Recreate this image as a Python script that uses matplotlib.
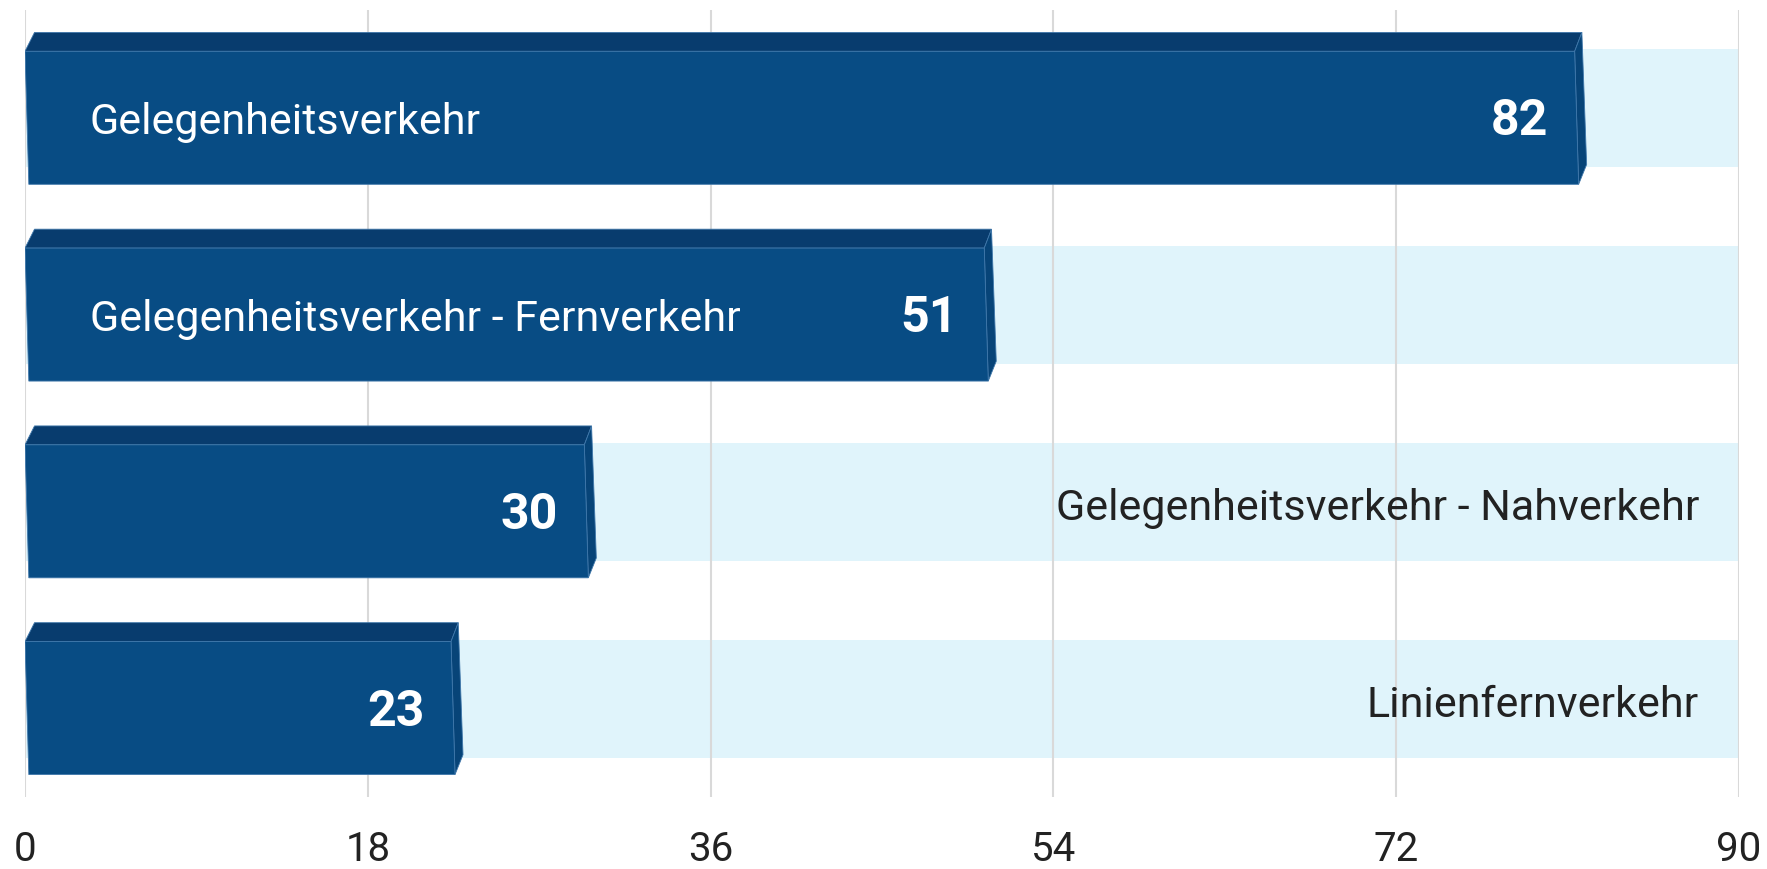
import matplotlib
matplotlib.use("Agg")
import matplotlib.pyplot as plt
from matplotlib.patches import Polygon, Rectangle

categories = ["Gelegenheitsverkehr", "Gelegenheitsverkehr - Fernverkehr",
              "Gelegenheitsverkehr - Nahverkehr", "Linienfernverkehr"]
values = [82, 51, 30, 23]
xticks = [0, 18, 36, 54, 72, 90]
xmax = 90

FRONT = "#084c84"
TOP = "#083c6e"
SIDE = "#074478"
EDGE = "#3f77aa"
BAND = "#e0f4fb"
GRID = "#d9d9d9"
TEXT = "#222222"

plt.rcParams['font.family'] = ['Roboto', 'DejaVu Sans']

fig = plt.figure(figsize=(17.67, 8.70), dpi=100)
ax = fig.add_axes([25/1767, 1-798/870, (1739-25)/1767, (798-11)/870])
ax.set_xlim(0, xmax)
ax.set_ylim(-0.5, 3.5)

for t in xticks:
    ax.axvline(t, color=GRID, lw=1.5, zorder=2)

n = len(categories)
for i, (cat, v) in enumerate(zip(categories, values)):
    y = n - 1 - i
    # background band
    ax.add_patch(Rectangle((0, y - 0.30), xmax, 0.60, facecolor=BAND,
                           edgecolor='none', zorder=1))
    ft = y + 0.29      # front top
    fb = y - 0.386     # front bottom
    tt = y + 0.386     # top face top
    sb = y - 0.285     # side bottom
    # top face
    ax.add_patch(Polygon([(0, ft), (0.5, tt), (v - 0.25, tt), (v - 0.63, ft)],
                         closed=True, facecolor=TOP, edgecolor=EDGE, lw=0.6, zorder=3))
    # side face
    ax.add_patch(Polygon([(v - 0.63, ft), (v - 0.25, tt), (v, sb), (v - 0.42, fb)],
                         closed=True, facecolor=SIDE, edgecolor=EDGE, lw=0.6, zorder=3))
    # front face
    ax.add_patch(Polygon([(0, ft), (v - 0.63, ft), (v - 0.42, fb), (0.2, fb)],
                         closed=True, facecolor=FRONT, edgecolor=EDGE, lw=0.6, zorder=4))
    cy = (ft + fb) / 2
    ax.text(v - 2.0, cy - 0.015, str(v), ha='right', va='center', color='white',
            fontsize=36, fontweight='bold', zorder=6)
    if v > 40:
        ax.text(3.4, cy - 0.02, cat, ha='left', va='center', color='white',
                fontsize=31, zorder=6)
    else:
        ax.text(87.9, y - 0.03, cat, ha='right', va='center', color=TEXT,
                fontsize=31, zorder=6)

ax.set_xticks(xticks)
ax.set_xticklabels([str(t) for t in xticks])
ax.set_yticks([])
ax.tick_params(axis='x', length=0, pad=23, labelsize=29, labelcolor=TEXT)
for s in ax.spines.values():
    s.set_visible(False)
ax.set_facecolor('white')

fig.savefig("out.png", dpi=100)
